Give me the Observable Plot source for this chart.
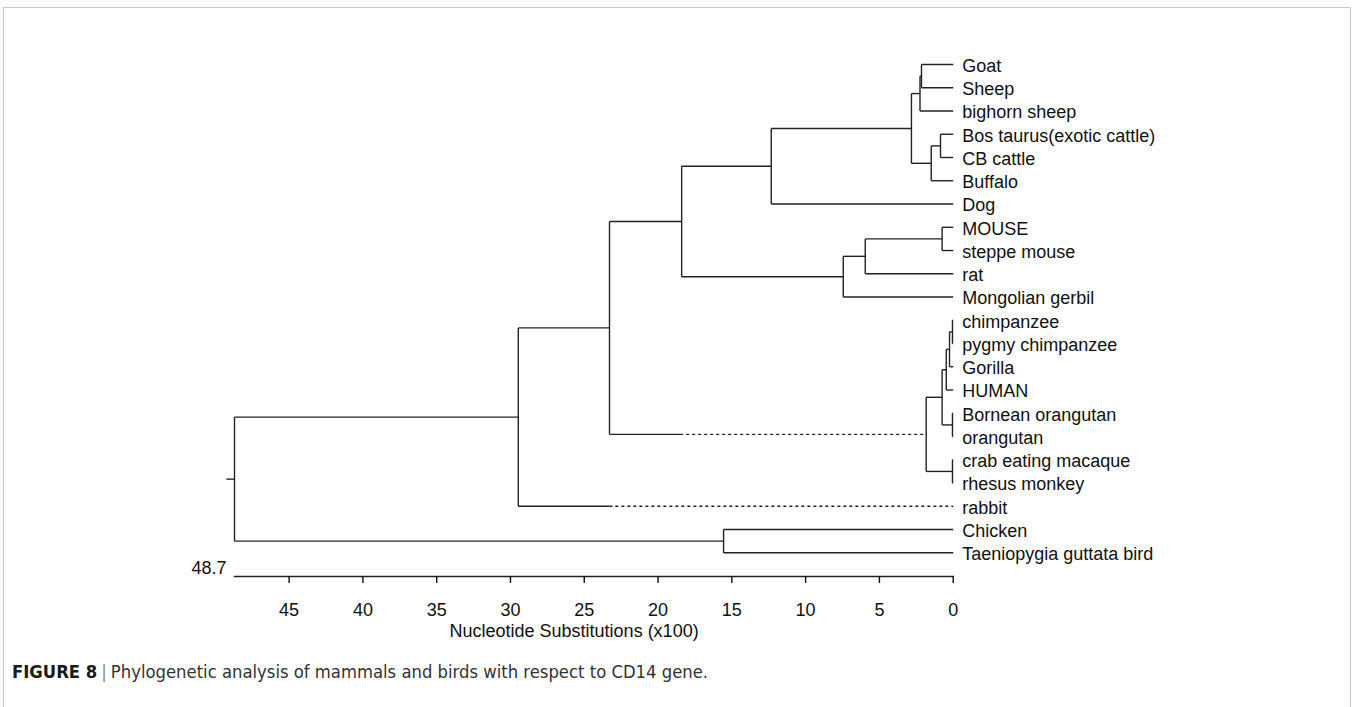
<!DOCTYPE html>
<html>
<head>
<meta charset="utf-8">
<script src="https://cdn.jsdelivr.net/npm/d3@7"></script>
<script src="https://cdn.jsdelivr.net/npm/@observablehq/plot@0.6"></script>
<style>
  html, body { margin: 0; padding: 0; background: #fff; }
  body { width: 1356px; height: 707px; position: relative; overflow: hidden; }
  #frame { position: absolute; left: 3px; top: 7px; width: 1348px; height: 760px; border: 1px solid #c8c8c8; box-sizing: border-box; }
  #chart { position: absolute; left: 0; top: 0; }
  #caption { position: absolute; left: 12px; top: 660px; font-family: "Liberation Sans Narrow", "DejaVu Sans Condensed", "Liberation Sans", sans-serif; font-size: 18.3px; line-height: 24px; color: #333; white-space: nowrap; }
  #caption b { color: #1a1a1a; }
  #caption .sep { color: #888; padding: 0 4px; }
</style>
</head>
<body>
<div id="frame"></div>
<div id="chart"></div>
<div id="caption"><b>FIGURE 8</b><span class="sep">|</span>Phylogenetic analysis of mammals and birds with respect to CD14 gene.</div>
<script>
// ---- data ----
const taxa = ["Goat", "Sheep", "bighorn sheep", "Bos taurus(exotic cattle)", "CB cattle", "Buffalo", "Dog",
  "MOUSE", "steppe mouse", "rat", "Mongolian gerbil",
  "chimpanzee", "pygmy chimpanzee", "Gorilla", "HUMAN", "Bornean orangutan", "orangutan",
  "crab eating macaque", "rhesus monkey", "rabbit", "Chicken", "Taeniopygia guttata bird"];

const nodeNames = ["goatSheep", "caprines", "cattle", "bovines", "bovids", "bovidsDog",
  "mice", "murids", "rodents", "laurasiaRodents",
  "chimps", "chimpGorilla", "hominines", "orangutans", "apes", "macaques", "primates",
  "eutherians", "mammals", "birds", "root"];
const nodeChildren = [
  ["Goat", "Sheep"], ["goatSheep", "bighorn sheep"],
  ["Bos taurus(exotic cattle)", "CB cattle"], ["cattle", "Buffalo"],
  ["caprines", "bovines"], ["bovids", "Dog"],
  ["MOUSE", "steppe mouse"], ["mice", "rat"], ["murids", "Mongolian gerbil"],
  ["bovidsDog", "rodents"],
  ["chimpanzee", "pygmy chimpanzee"], ["chimps", "Gorilla"], ["chimpGorilla", "HUMAN"],
  ["Bornean orangutan", "orangutan"], ["hominines", "orangutans"],
  ["crab eating macaque", "rhesus monkey"], ["apes", "macaques"],
  ["laurasiaRodents", "primates"], ["eutherians", "rabbit"],
  ["Chicken", "Taeniopygia guttata bird"], ["mammals", "birds"]];
const nodeHeights = [2.15, 2.25, 0.86, 1.49, 2.83, 12.33,
  0.75, 5.96, 7.45, 18.4,
  0.05, 0.25, 0.47, 0.05, 0.75, 0.05, 1.83,
  23.29, 29.47, 15.56, 48.7];

const dashedBranches = ["primates", "rabbit"];
const dashStarts = [18.5, 23.3];

const axisTicks = [45, 40, 35, 30, 25, 20, 15, 10, 5, 0];
const treeDepth = 48.7;
const rootLabel = "48.7";
const rootStub = 0.55;
const axisTitle = "Nucleotide Substitutions (x100)";

// ---- build tree geometry (in data units) ----
const H = new Map(), Y = new Map();
taxa.forEach((t, i) => { H.set(t, 0); Y.set(t, i); });
nodeNames.forEach((n, i) => H.set(n, nodeHeights[i]));
function yOf(n) {
  if (Y.has(n)) return Y.get(n);
  const kids = nodeChildren[nodeNames.indexOf(n)];
  const y = (yOf(kids[0]) + yOf(kids[kids.length - 1])) / 2;
  Y.set(n, y);
  return y;
}
nodeNames.forEach(yOf);

const solid = [], dashed = [];
nodeNames.forEach((n, i) => {
  const kids = nodeChildren[i];
  const h = nodeHeights[i];
  solid.push({x1: h, x2: h, y1: Y.get(kids[0]), y2: Y.get(kids[kids.length - 1])});
  kids.forEach(k => {
    const d = dashedBranches.indexOf(k);
    if (d >= 0) {
      solid.push({x1: h, x2: dashStarts[d], y1: Y.get(k), y2: Y.get(k)});
      dashed.push({x1: dashStarts[d], x2: H.get(k), y1: Y.get(k), y2: Y.get(k)});
    } else {
      solid.push({x1: h, x2: H.get(k), y1: Y.get(k), y2: Y.get(k)});
    }
  });
});
solid.push({x1: treeDepth + rootStub, x2: treeDepth, y1: Y.get("root"), y2: Y.get("root")});

const leaves = taxa.map((t, i) => ({name: t, y: i}));
const FONT = "'Liberation Sans', Arial, sans-serif";

const chart = Plot.plot({
  width: 1356,
  height: 650,
  marginLeft: 234,
  marginRight: 403.3,
  marginTop: 10,
  marginBottom: 74,
  x: {domain: [treeDepth, 0]},
  y: {domain: [0, taxa.length - 1], range: [64, 552.3], axis: null},
  style: {fontFamily: FONT, fontSize: "18px", color: "#111", background: "transparent"},
  marks: [
    Plot.frame({anchor: "bottom", stroke: "#222", strokeWidth: 1.4}),
    Plot.axisX({ticks: axisTicks, tickSize: 7, tickPadding: 20, fontSize: 18, fontFamily: FONT, label: null, tickFormat: d => String(d), strokeWidth: 1.4}),
    Plot.link(solid, {x1: "x1", y1: "y1", x2: "x2", y2: "y2", stroke: "#222", strokeWidth: 1.4}),
    Plot.link(dashed, {x1: "x1", y1: "y1", x2: "x2", y2: "y2", stroke: "#222", strokeWidth: 1.4, strokeDasharray: "3,3"}),
    Plot.text(leaves, {x: 0, y: "y", text: "name", dx: 9, dy: 1.5, textAnchor: "start", fontSize: 18, fontFamily: FONT, fill: "#111"}),
    Plot.text([rootLabel], {x: treeDepth, frameAnchor: "bottom", textAnchor: "end", dx: -8, dy: -3, fontSize: 18, fontFamily: FONT, fill: "#111"}),
    Plot.text([axisTitle], {x: 25.69, frameAnchor: "bottom", dy: 60, fontSize: 18, fontFamily: FONT, fill: "#111"})
  ]
});
document.getElementById("chart").appendChild(chart);
</script>
</body>
</html>
